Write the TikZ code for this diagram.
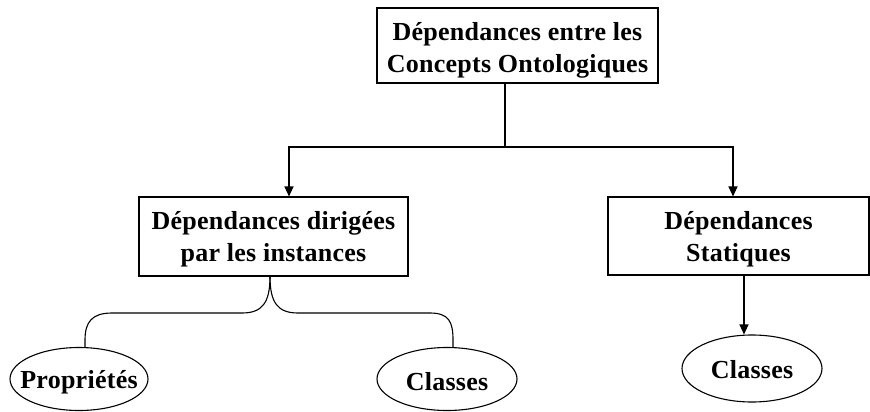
\documentclass[tikz,border=0pt]{standalone}
\usepackage{fontspec}
\setmainfont{Liberation Serif}[LetterSpace=1]
\usetikzlibrary{arrows.meta,shapes.geometric}
\begin{document}
\begin{tikzpicture}[x=1pt,y=-1pt, line width=1.1pt,
  lbl/.style={font=\bfseries\fontsize{26}{32}\selectfont, align=center, inner sep=0pt},
  box/.style={draw, rectangle, inner sep=0pt},
  oval/.style={draw, ellipse, inner sep=0pt},
  txt/.style 2 args={label={[lbl, yshift=#1]center:{#2}}},
  arr/.style={-{Triangle[width=9pt,length=10pt]}}]
\useasboundingbox (0,0) rectangle (870,412);
\node[box, minimum width=281pt, minimum height=75pt, txt={-5pt}{Dépendances entre les\\Concepts Ontologiques}] (top) at (517.5,45.5) {};
\node[box, minimum width=269pt, minimum height=79pt, txt={-3pt}{Dépendances dirigées\\par les instances}] (left) at (273.5,236.5) {};
\node[box, minimum width=261pt, minimum height=78pt, txt={-3pt}{Dépendances\\Statiques}] (right) at (738.5,236) {};
\node[oval, minimum width=138pt, minimum height=63pt, txt={-3pt}{Propriétés}] (prop) at (79,379) {};
\node[oval, minimum width=140pt, minimum height=63pt, txt={-3pt}{Classes}] (cl1) at (447,379) {};
\node[oval, minimum width=140pt, minimum height=67pt, txt={-1pt}{Classes}] (cl2) at (752,368.5) {};
\coordinate (j) at (505,147);
\draw (top.south -| j) -- (j);
\draw[arr] (j) -| ([xshift=15.5pt]left.north);
\draw[arr] (j) -| ([xshift=-5.5pt]right.north);
\draw[arr] ([xshift=5.5pt]right.south) -- ([xshift=5.5pt]right.south |- cl2.north);
\coordinate (b) at ([xshift=-3.5pt]left.south);
\draw (b) .. controls (270,303) and (262,313) .. (242,313) -- (112,313)
  .. controls (92,313) and (85,322) .. (85,340) -- (85,0 |- prop.north);
\draw (b) .. controls (270,303) and (278,313) .. (298,313) -- (430,313)
  .. controls (449,313) and (453,322) .. (453,340) -- (453,0 |- cl1.north);
\end{tikzpicture}
\end{document}
